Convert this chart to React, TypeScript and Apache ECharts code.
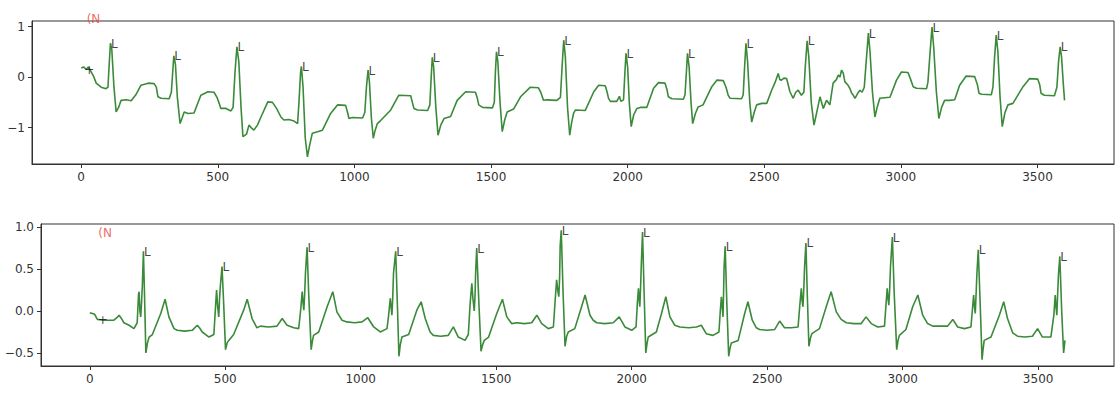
import React, { useEffect, useRef } from 'react';
import * as echarts from 'echarts';

const X_TICKS = [0, 500, 1000, 1500, 2000, 2500, 3000, 3500];
const TOP_Y_TICKS = [-1, 0, 1];
const BOTTOM_Y_TICKS = [-0.5, 0, 0.5, 1.0];

const topSignal: number[][] = [
  [0,0.18],[10,0.2],[18,0.15],[26,0.2],[35,0.12],[45,0.02],[55,-0.12],[73,-0.2],[91,-0.23],[98,-0.2],[103,0.3],[107,0.67],[112,0.55],[120,-0.2],[128,-0.69],[137,-0.6],[146,-0.46],[165,-0.45],[183,-0.47],[200,-0.35],[219,-0.16],[245,-0.12],[267,-0.13],[275,-0.2],[281,-0.39],[292,-0.42],[322,-0.43],[330,-0.3],[335,0.1],[339,0.42],[345,0.25],[352,-0.4],[362,-0.92],[370,-0.8],[377,-0.69],[391,-0.72],[413,-0.71],[438,-0.36],[464,-0.29],[486,-0.3],[497,-0.4],[505,-0.52],[511,-0.62],[530,-0.62],[548,-0.67],[556,-0.6],[563,0.1],[570,0.6],[577,0.3],[585,-0.6],[592,-1.18],[600,-1.15],[605,-1.13],[614,-0.95],[622,-1.0],[632,-1.05],[645,-0.95],[658,-0.79],[683,-0.49],[700,-0.5],[715,-0.62],[731,-0.79],[742,-0.85],[760,-0.84],[779,-0.87],[792,-0.92],[797,-0.5],[803,0.1],[806,0.21],[812,-0.2],[820,-1.2],[828,-1.58],[836,-1.35],[846,-1.11],[865,-1.08],[883,-1.05],[913,-0.72],[938,-0.55],[968,-0.56],[975,-0.7],[980,-0.82],[993,-0.8],[1030,-0.81],[1038,-0.7],[1044,-0.2],[1050,0.14],[1055,-0.1],[1062,-0.8],[1069,-1.21],[1076,-1.05],[1084,-0.92],[1096,-0.86],[1133,-0.65],[1162,-0.36],[1206,-0.37],[1212,-0.5],[1218,-0.62],[1231,-0.65],[1268,-0.66],[1276,-0.55],[1281,0.0],[1285,0.39],[1290,0.2],[1298,-0.6],[1306,-1.15],[1316,-0.95],[1328,-0.82],[1352,-0.78],[1376,-0.46],[1407,-0.29],[1443,-0.3],[1450,-0.42],[1455,-0.55],[1469,-0.6],[1505,-0.61],[1512,-0.5],[1516,0.1],[1520,0.5],[1525,0.3],[1533,-0.5],[1541,-1.08],[1550,-0.85],[1559,-0.69],[1583,-0.63],[1608,-0.39],[1644,-0.2],[1673,-0.21],[1682,-0.3],[1692,-0.46],[1704,-0.45],[1741,-0.46],[1754,-0.4],[1760,0.2],[1766,0.73],[1772,0.4],[1780,-0.6],[1788,-1.15],[1795,-0.9],[1802,-0.72],[1809,-0.65],[1845,-0.66],[1876,-0.29],[1894,-0.16],[1918,-0.17],[1925,-0.3],[1930,-0.42],[1937,-0.48],[1960,-0.48],[1970,-0.38],[1975,-0.48],[1985,-0.45],[1990,0.1],[1994,0.47],[2000,0.2],[2006,-0.5],[2013,-0.98],[2022,-0.75],[2034,-0.62],[2046,-0.6],[2070,-0.6],[2095,-0.22],[2113,-0.11],[2137,-0.12],[2144,-0.25],[2149,-0.39],[2162,-0.43],[2204,-0.44],[2210,-0.35],[2215,0.1],[2219,0.47],[2225,0.2],[2232,-0.5],[2238,-0.92],[2248,-0.72],[2258,-0.59],[2276,-0.55],[2308,-0.19],[2327,-0.06],[2350,-0.07],[2360,-0.2],[2368,-0.36],[2375,-0.42],[2417,-0.43],[2423,-0.35],[2428,0.2],[2433,0.67],[2439,0.3],[2447,-0.5],[2454,-0.89],[2463,-0.7],[2472,-0.55],[2491,-0.52],[2509,-0.52],[2527,-0.26],[2540,-0.1],[2551,0.07],[2557,-0.05],[2563,-0.06],[2572,-0.02],[2582,-0.03],[2594,-0.29],[2606,-0.42],[2615,-0.3],[2624,-0.26],[2636,-0.36],[2645,-0.3],[2650,0.2],[2657,0.72],[2663,0.4],[2672,-0.5],[2682,-0.95],[2692,-0.7],[2704,-0.39],[2716,-0.62],[2728,-0.46],[2740,-0.55],[2752,-0.12],[2764,-0.05],[2771,0.04],[2777,0.0],[2783,0.14],[2789,0.08],[2795,-0.09],[2805,-0.15],[2813,-0.22],[2820,-0.32],[2826,-0.36],[2832,-0.42],[2841,-0.33],[2850,-0.26],[2858,-0.3],[2866,-0.2],[2873,0.3],[2881,0.87],[2887,0.5],[2896,-0.3],[2905,-0.79],[2913,-0.6],[2923,-0.42],[2941,-0.41],[2960,-0.4],[2984,-0.06],[3002,0.1],[3026,0.09],[3036,-0.05],[3045,-0.19],[3057,-0.22],[3094,-0.23],[3099,-0.1],[3107,0.5],[3114,0.99],[3120,0.6],[3130,-0.3],[3139,-0.82],[3149,-0.6],[3160,-0.46],[3178,-0.46],[3197,-0.45],[3215,-0.16],[3239,0.02],[3270,0.01],[3280,-0.15],[3286,-0.32],[3295,-0.34],[3331,-0.35],[3337,-0.2],[3343,0.4],[3349,0.83],[3355,0.5],[3363,-0.4],[3371,-0.98],[3381,-0.7],[3392,-0.55],[3410,-0.52],[3447,-0.19],[3471,-0.03],[3501,-0.04],[3508,-0.15],[3513,-0.32],[3525,-0.36],[3562,-0.37],[3571,-0.2],[3577,0.3],[3583,0.6],[3588,0.4],[3594,-0.1],[3599,-0.46]
];

const bottomSignal: number[][] = [
  [0,-0.02],[18,-0.04],[28,-0.1],[52,-0.11],[89,-0.11],[100,-0.08],[108,-0.05],[117,-0.09],[126,-0.14],[145,-0.17],[163,-0.21],[175,-0.14],[180,0.2],[182,0.23],[185,0.0],[188,-0.07],[191,0.1],[194,0.3],[198,0.71],[202,0.2],[207,-0.5],[213,-0.38],[219,-0.31],[231,-0.28],[262,-0.03],[278,0.14],[292,-0.07],[311,-0.21],[323,-0.23],[350,-0.24],[378,-0.23],[397,-0.17],[405,-0.2],[415,-0.25],[440,-0.31],[458,-0.28],[465,0.1],[468,0.25],[472,0.05],[476,-0.07],[479,0.15],[482,0.3],[488,0.53],[494,0.1],[501,-0.46],[507,-0.38],[513,-0.35],[531,-0.28],[568,0.01],[581,0.14],[599,-0.09],[617,-0.2],[630,-0.18],[660,-0.19],[691,-0.18],[710,-0.09],[728,-0.17],[753,-0.2],[771,-0.21],[778,0.0],[784,0.23],[787,0.1],[790,0.01],[793,0.2],[796,0.45],[802,0.76],[808,0.2],[817,-0.46],[822,-0.35],[826,-0.29],[845,-0.25],[876,0.05],[897,0.23],[912,-0.01],[931,-0.11],[949,-0.13],[977,-0.14],[1005,-0.13],[1026,-0.08],[1048,-0.19],[1072,-0.25],[1097,-0.21],[1103,-0.05],[1109,0.15],[1112,0.05],[1115,-0.05],[1118,0.15],[1121,0.45],[1129,0.71],[1135,0.1],[1141,-0.54],[1146,-0.4],[1152,-0.31],[1177,-0.28],[1207,0.01],[1223,0.11],[1238,-0.09],[1256,-0.25],[1268,-0.29],[1295,-0.3],[1323,-0.29],[1342,-0.19],[1360,-0.31],[1385,-0.35],[1397,-0.28],[1404,0.1],[1410,0.33],[1414,0.15],[1419,0.0],[1422,0.2],[1424,0.45],[1428,0.75],[1436,0.1],[1444,-0.48],[1450,-0.4],[1456,-0.35],[1472,-0.31],[1502,-0.03],[1523,0.14],[1539,-0.07],[1557,-0.15],[1576,-0.14],[1604,-0.15],[1631,-0.14],[1650,-0.05],[1668,-0.15],[1692,-0.21],[1711,-0.19],[1717,0.1],[1723,0.37],[1727,0.25],[1731,0.17],[1734,0.4],[1736,0.77],[1740,0.96],[1747,0.2],[1754,-0.42],[1760,-0.3],[1766,-0.25],[1790,-0.21],[1815,0.05],[1828,0.19],[1846,-0.05],[1858,-0.11],[1871,-0.14],[1900,-0.15],[1932,-0.14],[1954,-0.07],[1975,-0.19],[2000,-0.23],[2016,-0.19],[2021,0.1],[2025,0.27],[2028,0.12],[2030,0.05],[2033,0.3],[2036,0.6],[2040,0.94],[2046,0.2],[2052,-0.5],[2057,-0.38],[2061,-0.31],[2091,-0.25],[2110,-0.03],[2126,0.17],[2141,-0.07],[2159,-0.17],[2178,-0.19],[2210,-0.2],[2239,-0.19],[2257,-0.17],[2275,-0.27],[2300,-0.29],[2322,-0.25],[2327,0.0],[2331,0.17],[2334,0.05],[2337,-0.07],[2339,0.2],[2341,0.52],[2345,0.77],[2351,0.1],[2358,-0.54],[2363,-0.44],[2368,-0.38],[2393,-0.35],[2417,-0.03],[2429,0.11],[2445,-0.11],[2460,-0.2],[2472,-0.22],[2500,-0.23],[2528,-0.22],[2546,-0.12],[2564,-0.2],[2589,-0.2],[2614,-0.19],[2620,0.05],[2626,0.27],[2629,0.12],[2632,0.05],[2635,0.25],[2638,0.52],[2643,0.81],[2648,0.2],[2654,-0.42],[2660,-0.32],[2665,-0.27],[2693,-0.21],[2718,0.05],[2736,0.23],[2755,-0.01],[2773,-0.1],[2792,-0.14],[2820,-0.15],[2847,-0.15],[2865,-0.07],[2884,-0.15],[2908,-0.19],[2933,-0.18],[2938,0.05],[2943,0.27],[2946,0.15],[2949,0.07],[2952,0.25],[2955,0.52],[2962,0.88],[2969,0.2],[2978,-0.46],[2983,-0.35],[2988,-0.29],[3012,-0.22],[3037,0.05],[3056,0.19],[3074,-0.05],[3092,-0.15],[3111,-0.18],[3140,-0.18],[3166,-0.18],[3185,-0.1],[3203,-0.19],[3228,-0.21],[3252,-0.19],[3257,0.0],[3262,0.19],[3265,0.05],[3268,-0.03],[3271,0.2],[3274,0.44],[3279,0.73],[3286,0.1],[3293,-0.58],[3297,-0.45],[3301,-0.35],[3326,-0.31],[3357,-0.05],[3373,0.11],[3387,-0.09],[3406,-0.26],[3424,-0.3],[3450,-0.31],[3479,-0.3],[3498,-0.21],[3516,-0.31],[3547,-0.31],[3558,-0.05],[3563,0.19],[3566,0.05],[3569,-0.05],[3572,0.2],[3575,0.43],[3580,0.65],[3587,0.0],[3594,-0.5],[3599,-0.35]
];

// beat annotations ("L") at R peaks
const topBeats: number[][] = [
  [107,0.67],[339,0.42],[570,0.6],[806,0.21],[1050,0.14],[1285,0.39],[1520,0.5],[1766,0.73],
  [1994,0.47],[2219,0.47],[2433,0.67],[2657,0.72],[2881,0.87],[3114,0.99],[3349,0.83],[3583,0.6]
];
const bottomBeats: number[][] = [
  [198,0.71],[488,0.53],[802,0.76],[1129,0.71],[1428,0.75],[1740,0.96],
  [2040,0.94],[2345,0.77],[2643,0.81],[2962,0.88],[3279,0.73],[3580,0.65]
];
const BEAT_SYMBOL = 'L';

// rhythm annotations: '+' marker and aux note '(N'
const topRhythmMark: number[][] = [[24, 0.16]];
const bottomRhythmMark: number[][] = [[42, -0.1]];
const topRhythmNote: number[][] = [[22, 1.07]];
const bottomRhythmNote: number[][] = [[33, 0.87]];
const RHYTHM_MARK = '+';
const RHYTHM_NOTE = '(N';

const FONT = 'DejaVu Sans';
const AXIS_COLOR = '#333';
const LINE_COLOR = '#3a8a3a';

const fmtMinus = (s: string) => s.replace('-', '\u2212');

function xAxisCfg(gridIndex: number) {
  return {
    type: 'value',
    gridIndex,
    min: -180,
    max: 3780,
    splitLine: { show: false },
    axisLine: { show: true, onZero: false, lineStyle: { color: AXIS_COLOR, width: 1 } },
    axisTick: { show: true, customValues: X_TICKS, length: 4, lineStyle: { color: AXIS_COLOR } },
    axisLabel: {
      customValues: X_TICKS,
      margin: 7,
      color: '#333',
      fontSize: 12,
      fontFamily: FONT,
      formatter: (v: number) => fmtMinus(String(v)),
    },
  };
}

function yAxisCfg(gridIndex: number, min: number, max: number, ticks: number[], dec: number) {
  return {
    type: 'value',
    gridIndex,
    min,
    max,
    splitLine: { show: false },
    axisLine: { show: true, onZero: false, lineStyle: { color: AXIS_COLOR, width: 1 } },
    axisTick: { show: true, customValues: ticks, length: 4, lineStyle: { color: AXIS_COLOR } },
    axisLabel: {
      customValues: ticks,
      margin: 7,
      color: '#333',
      fontSize: 12,
      fontFamily: FONT,
      formatter: (v: number) => fmtMinus(v.toFixed(dec)),
    },
  };
}

function textSeries(idx: number, data: number[][], text: string, color: string, offset: number[], fontSize: number) {
  return {
    type: 'scatter',
    xAxisIndex: idx,
    yAxisIndex: idx,
    data,
    symbolSize: 1,
    silent: true,
    itemStyle: { color: 'rgba(0,0,0,0)' },
    z: 5,
    label: {
      show: true,
      formatter: text,
      position: [0, 0],
      align: 'left',
      verticalAlign: 'bottom',
      offset,
      color,
      textBorderWidth: 0,
      textBorderColor: 'transparent',
      fontSize,
      fontFamily: FONT,
    },
  };
}

export default function App() {
  const ref = useRef<HTMLDivElement>(null);
  useEffect(() => {
    const chart = echarts.init(ref.current!, null, { renderer: 'svg' });
    const option: any = {
      animation: false,
      backgroundColor: '#fff',
      grid: [
        { left: 32, right: 2, top: 21, height: 143, show: true, borderColor: AXIS_COLOR, borderWidth: 1 },
        { left: 41, right: 2, top: 224, height: 142, show: true, borderColor: AXIS_COLOR, borderWidth: 1 },
      ],
      xAxis: [xAxisCfg(0), xAxisCfg(1)],
      yAxis: [
        yAxisCfg(0, -1.72, 1.11, TOP_Y_TICKS, 0),
        yAxisCfg(1, -0.655, 1.036, BOTTOM_Y_TICKS, 1),
      ],
      series: [
        {
          type: 'line', xAxisIndex: 0, yAxisIndex: 0, data: topSignal,
          showSymbol: false, silent: true,
          lineStyle: { color: LINE_COLOR, width: 1.6 }, z: 2,
        },
        {
          type: 'line', xAxisIndex: 1, yAxisIndex: 1, data: bottomSignal,
          showSymbol: false, silent: true,
          lineStyle: { color: LINE_COLOR, width: 1.6 }, z: 2,
        },
        textSeries(0, topBeats, BEAT_SYMBOL, '#111', [1, 7], 12),
        textSeries(1, bottomBeats, BEAT_SYMBOL, '#111', [1, 7], 12),
        textSeries(0, topRhythmMark, RHYTHM_MARK, '#111', [-3, 7], 12),
        textSeries(1, bottomRhythmMark, RHYTHM_MARK, '#111', [-3, 7], 12),
        textSeries(0, topRhythmNote, RHYTHM_NOTE, '#e8453c', [0, 2], 12),
        textSeries(1, bottomRhythmNote, RHYTHM_NOTE, '#e8453c', [0, 2], 12),
      ],
    };
    chart.setOption(option);
    return () => chart.dispose();
  }, []);
  return (
    <div
      ref={ref}
      style={{ position: 'fixed', left: 0, top: 0, width: 1116, height: 401, background: '#fff' }}
    />
  );
}
